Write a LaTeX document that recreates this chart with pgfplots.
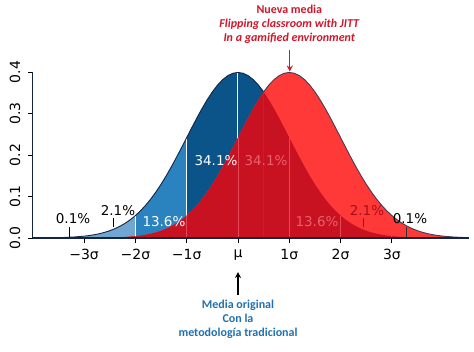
\documentclass[border=0pt]{standalone}
\usepackage{pgfplots}
\pgfplotsset{compat=1.18}
\usepackage{pgfplotstable}
\usetikzlibrary{arrows.meta}
\usepackage{fontspec}
\setmainfont{DejaVu Sans}
\newfontfamily\carlito{Carlito}
\definecolor{bDark}{RGB}{10,84,138}
\definecolor{bMed}{RGB}{42,130,190}
\definecolor{bLight}{RGB}{112,166,210}
\definecolor{bLighter}{RGB}{178,208,232}
\definecolor{rBright}{RGB}{255,56,56}
\definecolor{rDark}{RGB}{200,18,34}
\definecolor{rLine}{RGB}{228,72,84}
\definecolor{rText}{RGB}{234,96,108}
\definecolor{rTextDark}{RGB}{168,14,26}
\definecolor{outlineB}{RGB}{20,36,66}
\definecolor{outlineR}{RGB}{70,60,80}
\definecolor{annRed}{RGB}{208,22,42}
\definecolor{annBlue}{RGB}{32,112,176}
\pgfplotstableread{
z y
-5.0 0.00000
-4.5 0.00002
-4.0 0.00013
-3.8 0.00029
-3.6 0.00061
-3.4 0.00123
-3.2 0.00238
-3.0 0.00443
-2.9 0.00595
-2.8 0.00792
-2.7 0.01042
-2.6 0.01358
-2.5 0.01753
-2.4 0.02239
-2.3 0.02833
-2.2 0.03547
-2.1 0.04398
-2.0 0.05399
-1.9 0.06562
-1.8 0.07895
-1.7 0.09405
-1.6 0.11092
-1.5 0.12952
-1.4 0.14973
-1.3 0.17137
-1.2 0.19419
-1.1 0.21785
-1.0 0.24197
-0.9 0.26609
-0.8 0.28969
-0.7 0.31225
-0.6 0.33322
-0.5 0.35207
-0.4 0.36827
-0.3 0.38139
-0.2 0.39104
-0.1 0.39695
0.0 0.39894
0.1 0.39695
0.2 0.39104
0.3 0.38139
0.4 0.36827
0.5 0.35207
0.6 0.33322
0.7 0.31225
0.8 0.28969
0.9 0.26609
1.0 0.24197
1.1 0.21785
1.2 0.19419
1.3 0.17137
1.4 0.14973
1.5 0.12952
1.6 0.11092
1.7 0.09405
1.8 0.07895
1.9 0.06562
2.0 0.05399
2.1 0.04398
2.2 0.03547
2.3 0.02833
2.4 0.02239
2.5 0.01753
2.6 0.01358
2.7 0.01042
2.8 0.00792
2.9 0.00595
3.0 0.00443
3.2 0.00238
3.4 0.00123
3.6 0.00061
3.8 0.00029
4.0 0.00013
4.5 0.00002
}\pdf
\begin{document}
\begin{tikzpicture}
\path[use as bounding box] (-238pt,-114pt) rectangle (236pt,238pt);
\begin{axis}[
  at={(0pt,0pt)}, anchor=origin,
  scale only axis, width=436.05pt, height=166pt,
  xmin=-4, xmax=4.5, ymin=0, ymax=0.4,
  enlargelimits=false, clip=false,
  axis x line=bottom, axis y line=left,
  axis line style={-, draw=outlineB, line width=0.9pt},
  tick align=outside, major tick length=5pt,
  tick style={draw=black, line width=0.8pt},
  xtick={-3,-2,-1,0,1,2,3},
  xticklabels={−3σ,−2σ,−1σ,μ,1σ,2σ,3σ},
  ytick={0,0.1,0.2,0.3,0.4},
  yticklabel shift=4pt,
  yticklabel style={rotate=90, anchor=south, /pgf/number format/.cd, fixed, fixed zerofill, precision=1, assume math mode=true},
  ticklabel style={font=\fontsize{14}{16}\selectfont},
  xticklabel style={yshift=-3pt},
]
% blue bands
\addplot[fill=bLighter, draw=none, restrict x to domain=-4:-3] table[x=z,y=y]{\pdf} \closedcycle;
\addplot[fill=bLight, draw=none, restrict x to domain=-3:-2] table[x=z,y=y]{\pdf} \closedcycle;
\addplot[fill=bMed, draw=none, restrict x to domain=-2:-1] table[x=z,y=y]{\pdf} \closedcycle;
\addplot[fill=bDark, draw=none, restrict x to domain=-1:1] table[x=z,y=y]{\pdf} \closedcycle;
\addplot[fill=bMed, draw=none, restrict x to domain=1:2] table[x=z,y=y]{\pdf} \closedcycle;
\addplot[fill=bLight, draw=none, restrict x to domain=2:3] table[x=z,y=y]{\pdf} \closedcycle;
\addplot[fill=bLighter, draw=none, restrict x to domain=3:4.5] table[x=z,y=y]{\pdf} \closedcycle;
% white dividers on blue
\addplot[ycomb, draw=white, line width=1pt, mark=none] coordinates {(-3,0.00443) (-2,0.05399) (-1,0.24197) (0,0.39894)};
% red curve
\addplot[fill=rBright, draw=none, restrict x to domain=-4:4.5] table[x expr=\thisrow{z}+1, y=y]{\pdf} \closedcycle;
% overlap
\addplot[fill=rDark, draw=none, restrict x to domain=-4:0.5] table[x expr=\thisrow{z}+1, y=y]{\pdf} \closedcycle;
\addplot[fill=rDark, draw=none, restrict x to domain=0.5:4.5] table[x=z,y=y]{\pdf} \closedcycle;
% faint lines in overlap
\addplot[ycomb, draw=rLine, line width=0.9pt, mark=none] coordinates {(-2,0.00443) (-1,0.05399) (0,0.24197) (1,0.24197) (2,0.05399) (3,0.00443)};
% outlines
\addplot[draw=outlineB, line width=0.9pt, restrict x to domain=-4:0.5] table[x=z,y=y]{\pdf};
\addplot[draw=outlineR, line width=0.9pt, restrict x to domain=0.5:4.5] table[x expr=\thisrow{z}+1, y=y]{\pdf};
% baseline
\draw[outlineB, line width=1pt] (axis cs:-4,0) -- (axis cs:4.5,0);
% percentage labels
\begin{scope}[every node/.style={font=\fontsize{13.5}{15}\selectfont, inner sep=0pt}]
\node[black] at (axis cs:-3.216,0.0458) {0.1\%};
\draw[black, line width=0.8pt] (axis cs:-3.294,0.0024) -- (axis cs:-3.294,0.0265);
\node[black] at (axis cs:-2.339,0.065) {2.1\%};
\draw[black, line width=0.8pt] (axis cs:-2.437,0.0265) -- (axis cs:-2.437,0.0482);
\node[white] at (axis cs:-1.443,0.0386) {13.6\%};
\node[white] at (axis cs:-0.429,0.1855) {34.1\%};
\node[rText] at (axis cs:0.546,0.1855) {34.1\%};
\node[rText] at (axis cs:1.54,0.0386) {13.6\%};
\node[rTextDark] at (axis cs:2.515,0.065) {2.1\%};
\draw[rTextDark, line width=0.8pt] (axis cs:2.437,0.0265) -- (axis cs:2.437,0.0482);
\node[black] at (axis cs:3.353,0.0458) {0.1\%};
\draw[black!80, line width=0.8pt] (axis cs:3.275,0.0024) -- (axis cs:3.275,0.0265);
\end{scope}
% annotations
\node[annRed, align=center, font=\carlito\bfseries\fontsize{12}{14}\selectfont, inner sep=0pt] at (axis cs:1.0,0.5157)
  {Nueva media\\\itshape Flipping classroom with JITT\\\itshape In a gamified environment};
\draw[annRed, line width=1.2pt, -{Stealth[length=6pt,width=6pt]}] (axis cs:1.01,0.453) -- (axis cs:1.01,0.401);
\draw[black, line width=1.2pt, -{Stealth[length=6pt,width=6pt]}] (axis cs:0,-0.137) -- (axis cs:0,-0.082);
\node[annBlue, align=center, font=\carlito\bfseries\fontsize{12}{14}\selectfont, inner sep=0pt] at (axis cs:0,-0.195)
  {Media original\\Con la\\metodología tradicional};
\end{axis}
\end{tikzpicture}
\end{document}
